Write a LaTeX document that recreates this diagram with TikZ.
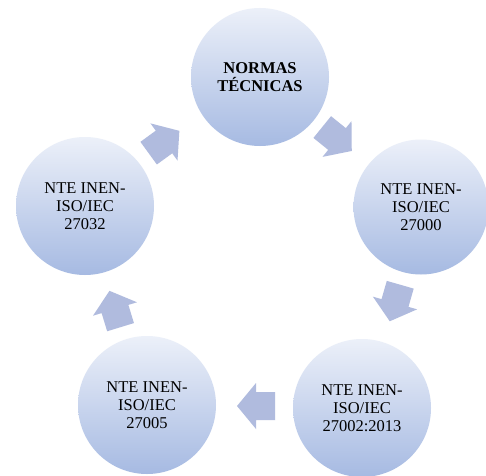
\documentclass[tikz,border=0pt]{standalone}
\usepackage{fontspec}
\setmainfont{Liberation Serif}
\definecolor{circtop}{RGB}{236,240,249}
\definecolor{circbot}{RGB}{166,186,226}
\definecolor{arrowcol}{RGB}{176,187,222}
\begin{document}
\begin{tikzpicture}[x=1pt,y=1pt,
  stage/.style={circle, inner sep=0pt, minimum size=138pt, top color=circtop, bottom color=circbot,
    align=center, font=\fontsize{16.5}{18}\selectfont, text=black},
  blockarr/.pic={\fill[arrowcol] (-19,-14) -- (0,-14) -- (0,-23) -- (19,0) -- (0,23) -- (0,14) -- (-19,14) -- cycle;}]
\useasboundingbox (0,0) rectangle (486,475);
\fill[white] (0,0) rectangle (486,475);
\node[stage] (top) at (260,398) {\textbf{NORMAS}\\\textbf{TÉCNICAS}};
\node[stage, minimum size=135pt] (right) at (421,268) {NTE INEN-\\ISO/IEC\\27000};
\node[stage] (br) at (362,67) {NTE INEN-\\ISO/IEC\\27002:2013};
\node[stage] (bl) at (147,70) {NTE INEN-\\ISO/IEC\\27005};
\node[stage] (left) at (85,269) {NTE INEN-\\ISO/IEC\\27032};
\pic[rotate=36] at (164,333) {blockarr};
\pic[rotate=-39] at (337,336) {blockarr};
\pic[rotate=-106] at (395,172) {blockarr};
\pic[rotate=180] at (256,69) {blockarr};
\pic[rotate=107] at (115,166) {blockarr};
\end{tikzpicture}
\end{document}
